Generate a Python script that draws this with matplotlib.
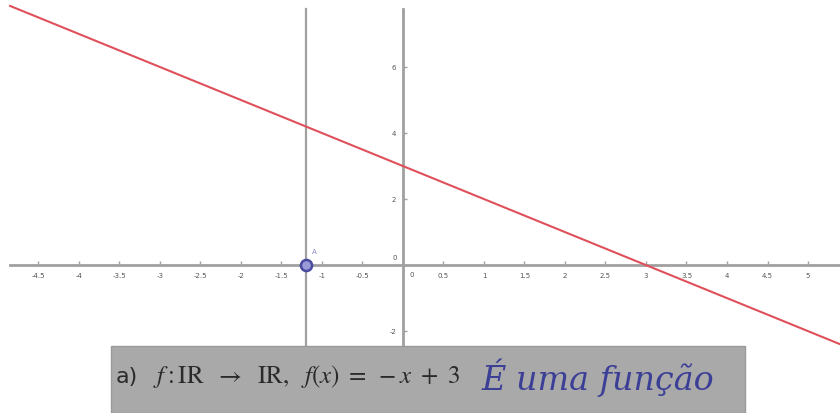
import numpy as np
import matplotlib
matplotlib.use("Agg")
import matplotlib.pyplot as plt
from matplotlib.patches import Rectangle

# f(x) = a*x + b
slope = -1.0
intercept = 3.0
x_domain = [-4.85, 5.4]

# vertical line x = k and the point A on it
k_line = -1.2
point_A = (-1.2, 0.0)

x_ticks = [-4.5, -4, -3.5, -3, -2.5, -2, -1.5, -1, -0.5, 0.5, 1, 1.5, 2, 2.5, 3, 3.5, 4, 4.5, 5]
x_tick_labels = ["-4.5", "-4", "-3.5", "-3", "-2.5", "-2", "-1.5", "-1", "-0.5",
                 "0.5", "1", "1.5", "2", "2.5", "3", "3.5", "4", "4.5", "5"]
y_ticks = [-2, 2, 4, 6]
y_tick_labels = ["-2", "2", "4", "6"]

fig = plt.figure(figsize=(8.4, 4.13), dpi=100)
ax = fig.add_axes([0, 0, 1, 1])
ax.set_xlim(-4.975, 5.395)
ax.set_ylim(-4.48, 8.03)

axis_col = "#a0a0a0"
for side in ("top", "right"):
    ax.spines[side].set_visible(False)
ax.spines["left"].set_position(("data", 0))
ax.spines["bottom"].set_position(("data", 0))
ax.spines["left"].set_bounds(-4.4, 7.75)
ax.spines["bottom"].set_bounds(-4.85, 5.4)
for side in ("left", "bottom"):
    ax.spines[side].set_color(axis_col)
    ax.spines[side].set_linewidth(2.0)

ax.set_xticks(x_ticks)
ax.set_xticklabels(x_tick_labels)
ax.set_yticks(y_ticks)
ax.set_yticklabels(y_tick_labels)
ax.tick_params(axis="x", direction="in", length=3, width=1, color=axis_col,
               labelsize=5, labelcolor="#555555", pad=6)
ax.tick_params(axis="y", direction="in", length=3, width=1, color=axis_col,
               labelsize=5, labelcolor="#555555", pad=5)
ax.text(0.08, -0.2, "0", fontsize=5, color="#555555", ha="left", va="top")
ax.text(-0.08, 0.12, "0", fontsize=5, color="#555555", ha="right", va="bottom")

# vertical line x = k
ax.plot([k_line, k_line], [-4.4, 7.75], color=axis_col, lw=1.6, zorder=2)

# graph of f
xs = np.array(x_domain)
ax.plot(xs, slope * xs + intercept, color="#e0505a", lw=1.5, zorder=3)

# point A
ax.plot(*point_A, marker="o", ms=8, mfc="#9a9ad8", mec="#4a4aa0", mew=1.8, zorder=4)
ax.text(point_A[0] + 0.08, point_A[1] + 0.35, "A", fontsize=5, color="#8a8ac8")

# caption strip
fig.patches.append(Rectangle((111 / 840, 0), (745 - 111) / 840, (413 - 346) / 413,
                             transform=fig.transFigure, facecolor="#a9a9a9",
                             edgecolor="#9a9a9a", lw=1, zorder=5))
fig.text(116 / 840, 1 - 377 / 413, "a)", fontsize=16, color="#2a2a2a",
         family="DejaVu Sans", va="center", ha="left", zorder=6)
plt.rcParams["mathtext.fontset"] = "stix"
fig.text(153 / 840, 1 - 376 / 413,
         r"$f\,\!:\mathrm{IR}\ \ \rightarrow\ \ \mathrm{IR},\ \ f(x)\ =\ -x\ +\ 3$",
         fontsize=18, color="#2a2a2a", va="center", ha="left", zorder=6)
fig.text(482 / 840, 1 - 378 / 413, "É uma função", fontsize=24, color="#3c3f96",
         family="DejaVu Serif", style="italic", va="center", ha="left", zorder=6)

fig.savefig("out.png", dpi=100, facecolor="white")
